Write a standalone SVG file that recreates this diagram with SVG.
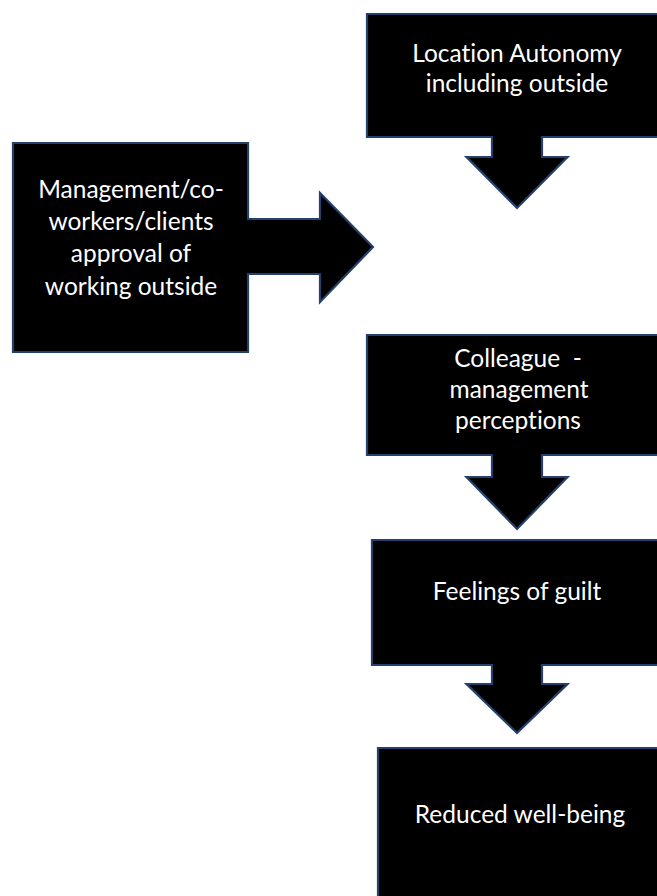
<svg xmlns="http://www.w3.org/2000/svg" width="657" height="896" viewBox="0 0 657 896">
  <style>
    .shape { fill: #000000; stroke: #24406c; stroke-width: 2.2; stroke-linejoin: miter; }
    .label { fill: #ffffff; font-family: Lato, "Open Sans", "Liberation Sans", sans-serif; font-size: 24.5px; text-anchor: middle; font-variant-ligatures: none; }
  </style>
  <rect width="657" height="896" fill="#ffffff"/>

  <!-- arrows are drawn as part of each callout shape -->
  <g id="connectors"></g>

  <g id="node-location">
    <path class="shape" d="M367,14 H668 V137 H542 V157 H567.5 L517,208 L466.5,157 H492 V137 H367 Z"/>
    <text class="label" x="517" y="62">Location Autonomy</text>
    <text class="label" x="517" y="92">including outside</text>
  </g>

  <g id="node-approval">
    <path class="shape" d="M13,143 H248 V219 H320 V193 L373,247 L320,302 V274 H248 V352 H13 Z"/>
    <text class="label" x="131" y="198">Management/co-</text>
    <text class="label" x="131" y="230">workers/clients</text>
    <text class="label" x="131" y="262">approval of</text>
    <text class="label" x="131" y="295">working outside</text>
  </g>

  <g id="node-perceptions">
    <path class="shape" d="M367,335 H668 V455 H542 V477 H567.5 L517,529 L466.5,477 H492 V455 H367 Z"/>
    <text class="label" x="518" y="367" xml:space="preserve">Colleague  -</text>
    <text class="label" x="519" y="398">management</text>
    <text class="label" x="518" y="429">perceptions</text>
  </g>

  <g id="node-guilt">
    <path class="shape" d="M372,540 H668 V665 H542 V684 H567.5 L517,733 L466.5,684 H492 V665 H372 Z"/>
    <text class="label" x="517" y="600">Feelings of guilt</text>
  </g>

  <g id="node-wellbeing">
    <path class="shape" d="M378,748 H668 V905 H378 Z"/>
    <text class="label" x="520" y="823">Reduced well-being</text>
  </g>
</svg>
